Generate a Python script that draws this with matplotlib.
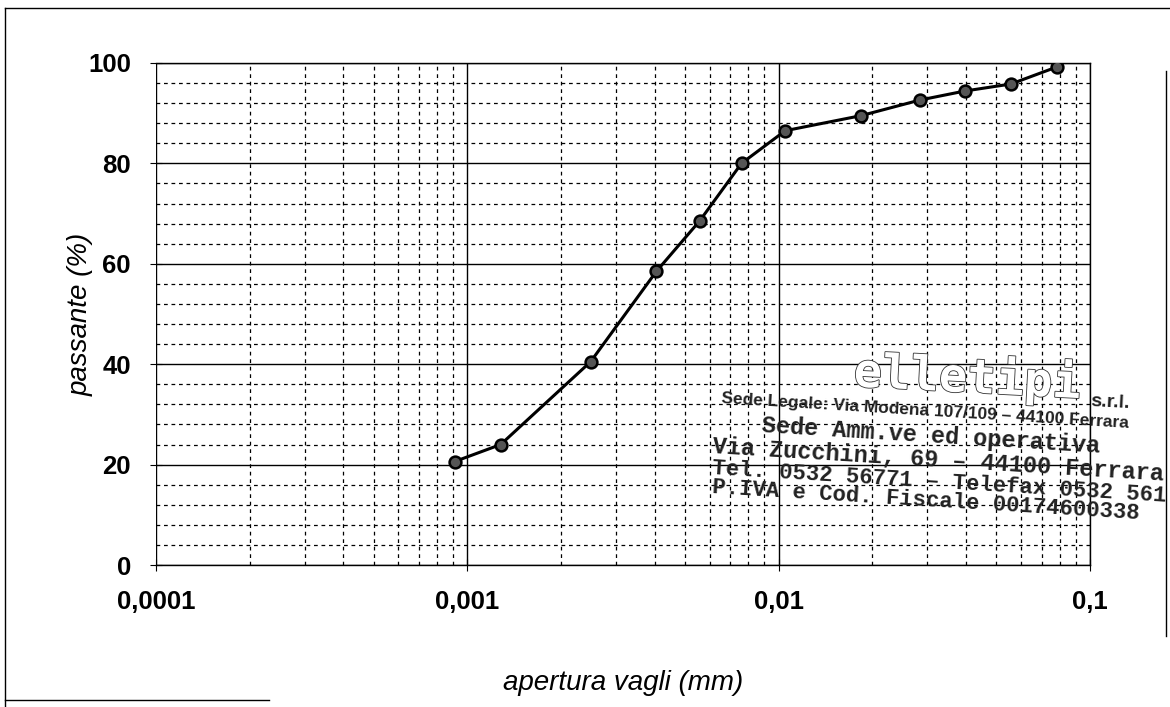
import matplotlib.pyplot as plt
import matplotlib.patheffects as pe
from matplotlib.ticker import FixedLocator, LogLocator, FuncFormatter, NullFormatter

# aperture (mm) vs passing (%)
apertura = [0.00091, 0.00128, 0.00249, 0.00405, 0.00557, 0.0076,
            0.0105, 0.0184, 0.0284, 0.0396, 0.0557, 0.0783]
passante = [20.6, 24.0, 40.5, 58.5, 68.5, 80.0,
            86.5, 89.5, 92.6, 94.4, 95.8, 99.2]

stamp_lines = [
    "Sede Legale: Via Modena 107/109 \u2013 44100 Ferrara",
    "Sede Amm.ve ed operativa",
    "Via Zucchini, 69 \u2013 44100 Ferrara",
    "Tel. 0532 56771 \u2013 Telefax 0532 561",
    "P.IVA e Cod. Fiscale 00174600338",
]

plt.rcParams['font.family'] = ['Liberation Sans', 'DejaVu Sans']

fig = plt.figure(figsize=(11.7, 7.07), dpi=100)
ax = fig.add_axes([0.1333, 0.2008, 0.7983, 0.7102])

ax.set_xscale('log')
ax.set_xlim(0.0001, 0.1)
ax.set_ylim(0, 100)

ax.plot(apertura, passante, color='black', lw=2.2, marker='o', ms=8.5,
        mfc='#555555', mec='black', mew=1.8, zorder=5)

ax.xaxis.set_major_locator(FixedLocator([0.0001, 0.001, 0.01, 0.1]))
ax.xaxis.set_minor_locator(LogLocator(base=10, subs=range(2, 10)))
ax.xaxis.set_minor_formatter(NullFormatter())
ax.xaxis.set_major_formatter(FuncFormatter(lambda v, p: f"{v:g}".replace('.', ',') if v >= 0.001 else "0,0001"))
ax.yaxis.set_major_locator(FixedLocator([0, 20, 40, 60, 80, 100]))
ax.yaxis.set_minor_locator(FixedLocator([v for v in range(0, 101, 4) if v % 20]))

ax.grid(which='major', color='black', lw=1.0)
ax.grid(which='minor', color='black', lw=0.9, ls=(0, (3, 3)))

ax.tick_params(which='both', length=0)
ax.tick_params(axis='y', which='major', direction='inout', length=8, width=0.8, pad=14)
ax.tick_params(axis='x', which='major', direction='inout', length=8, width=0.8, pad=14)
for lab in ax.get_xticklabels() + ax.get_yticklabels():
    lab.set_fontsize(18.5)
    lab.set_fontweight('bold')

for s in ['top', 'right', 'bottom']:
    ax.spines[s].set_linewidth(1.0)
ax.spines['left'].set_visible(False)

ax.set_xlabel('apertura vagli (mm)', fontsize=20, style='italic', labelpad=40)
ax.set_ylabel('passante (%)', fontsize=20, style='italic', labelpad=-4)

# company stamp overlaid on the scan
t = fig.text(0.827, 0.465, "elletipi", fontsize=34, color='white', rotation=-3,
             ha='center', va='center', family='DejaVu Sans Mono', weight='bold', zorder=11)
t.set_path_effects([pe.withStroke(linewidth=1.2, foreground='#333333')])
fig.text(0.932, 0.43, "s.r.l.", fontsize=14, color='#222222', rotation=-3,
         ha='left', va='center', weight='bold', zorder=11)
stamp_x = [0.617, 0.651, 0.609, 0.609, 0.609]
stamp_y = [0.437, 0.398, 0.368, 0.338, 0.310]
stamp_fs = [12.5, 17, 17, 16, 16]
stamp_fam = ['Liberation Sans', 'Liberation Mono', 'Liberation Mono',
             'Liberation Mono', 'Liberation Mono']
for txt, x, y, fs, fam in zip(stamp_lines, stamp_x, stamp_y, stamp_fs, stamp_fam):
    fig.text(x, y, txt, fontsize=fs, color='#222222', rotation=-3.5, family=fam,
             weight='bold', ha='left', va='center', zorder=11, rotation_mode='anchor')

# scanned page frame
fig.add_artist(plt.Line2D([0.004, 0.999], [0.989, 0.989], color='black', lw=1.0))
fig.add_artist(plt.Line2D([0.004, 0.004], [0.0, 0.989], color='black', lw=1.0))
fig.add_artist(plt.Line2D([0.997, 0.997], [0.1, 0.9], color='black', lw=1.0))
fig.add_artist(plt.Line2D([0.004, 0.23], [0.01, 0.01], color='black', lw=1.0))

fig.savefig('out.png', dpi=100)
